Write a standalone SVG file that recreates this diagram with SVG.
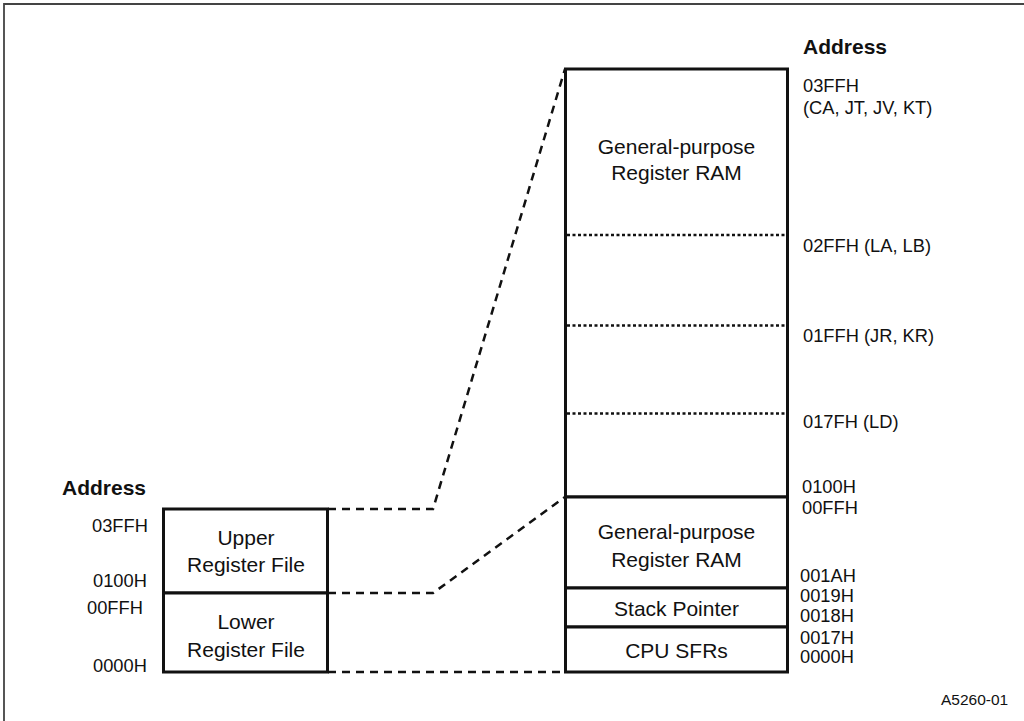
<svg xmlns="http://www.w3.org/2000/svg" width="1024" height="721" viewBox="0 0 1024 721">
<style>
text{font-family:"Liberation Sans",Arial,sans-serif;fill:#111}
.box{fill:#fff;stroke:#111;stroke-width:3}
.lbl{font-size:21px;text-anchor:middle}
.addr{font-size:18.3px}
.hdr{font-size:21px;font-weight:bold}
.dash{fill:none;stroke:#111;stroke-width:2.5;stroke-dasharray:8 6}
.dot{stroke:#111;stroke-width:2.5;stroke-dasharray:3 2.5}
</style>
<rect x="0" y="0" width="1024" height="721" fill="#fff"/>
<path d="M4,721 V4 H1024" fill="none" stroke="#444" stroke-width="1.8"/>

<g id="connectors">
<path class="dash" d="M328,509 H433 L565,69"/>
<path class="dash" d="M328,593 H433 L565,497"/>
<path class="dash" d="M328,672 H565"/>
</g>

<g id="left-address">
<text class="hdr" x="62" y="495">Address</text>
<text class="addr" x="92" y="532">03FFH</text>
<text class="addr" x="93" y="587">0100H</text>
<text class="addr" x="87" y="614">00FFH</text>
<text class="addr" x="93" y="672">0000H</text>
</g>

<g id="upper-register-file">
<rect class="box" x="163.5" y="509" width="164" height="84"/>
<text class="lbl" x="246" y="545">Upper</text>
<text class="lbl" x="246" y="572">Register File</text>
</g>
<g id="lower-register-file">
<rect class="box" x="163.5" y="593" width="164" height="79"/>
<text class="lbl" x="246" y="629">Lower</text>
<text class="lbl" x="246" y="657">Register File</text>
</g>

<g id="upper-ram">
<rect class="box" x="565.5" y="69" width="222" height="428"/>
<line class="dot" x1="567" y1="235" x2="786" y2="235"/>
<line class="dot" x1="567" y1="325.5" x2="786" y2="325.5"/>
<line class="dot" x1="567" y1="413.5" x2="786" y2="413.5"/>
<text class="lbl" x="676.5" y="154">General-purpose</text>
<text class="lbl" x="676.5" y="180">Register RAM</text>
</g>
<g id="lower-ram">
<rect class="box" x="565.5" y="497" width="222" height="91"/>
<text class="lbl" x="676.5" y="539">General-purpose</text>
<text class="lbl" x="676.5" y="567">Register RAM</text>
</g>
<g id="stack-pointer">
<rect class="box" x="565.5" y="588" width="222" height="39"/>
<text class="lbl" x="676.5" y="616">Stack Pointer</text>
</g>
<g id="cpu-sfrs">
<rect class="box" x="565.5" y="627" width="222" height="45"/>
<text class="lbl" x="676.5" y="658">CPU SFRs</text>
</g>

<g id="right-address">
<text class="hdr" x="803" y="54">Address</text>
<text class="addr" x="803" y="92">03FFH</text>
<text class="addr" x="803" y="114">(CA, JT, JV, KT)</text>
<text class="addr" x="803" y="252">02FFH (LA, LB)</text>
<text class="addr" x="803" y="342">01FFH (JR, KR)</text>
<text class="addr" x="803" y="428">017FH (LD)</text>
<text class="addr" x="802" y="493">0100H</text>
<text class="addr" x="802" y="514">00FFH</text>
<text class="addr" x="800" y="582">001AH</text>
<text class="addr" x="800" y="602">0019H</text>
<text class="addr" x="800" y="622">0018H</text>
<text class="addr" x="800" y="644">0017H</text>
<text class="addr" x="800" y="663">0000H</text>
</g>

<text x="941" y="705" style="font-size:15.5px">A5260-01</text>
</svg>
